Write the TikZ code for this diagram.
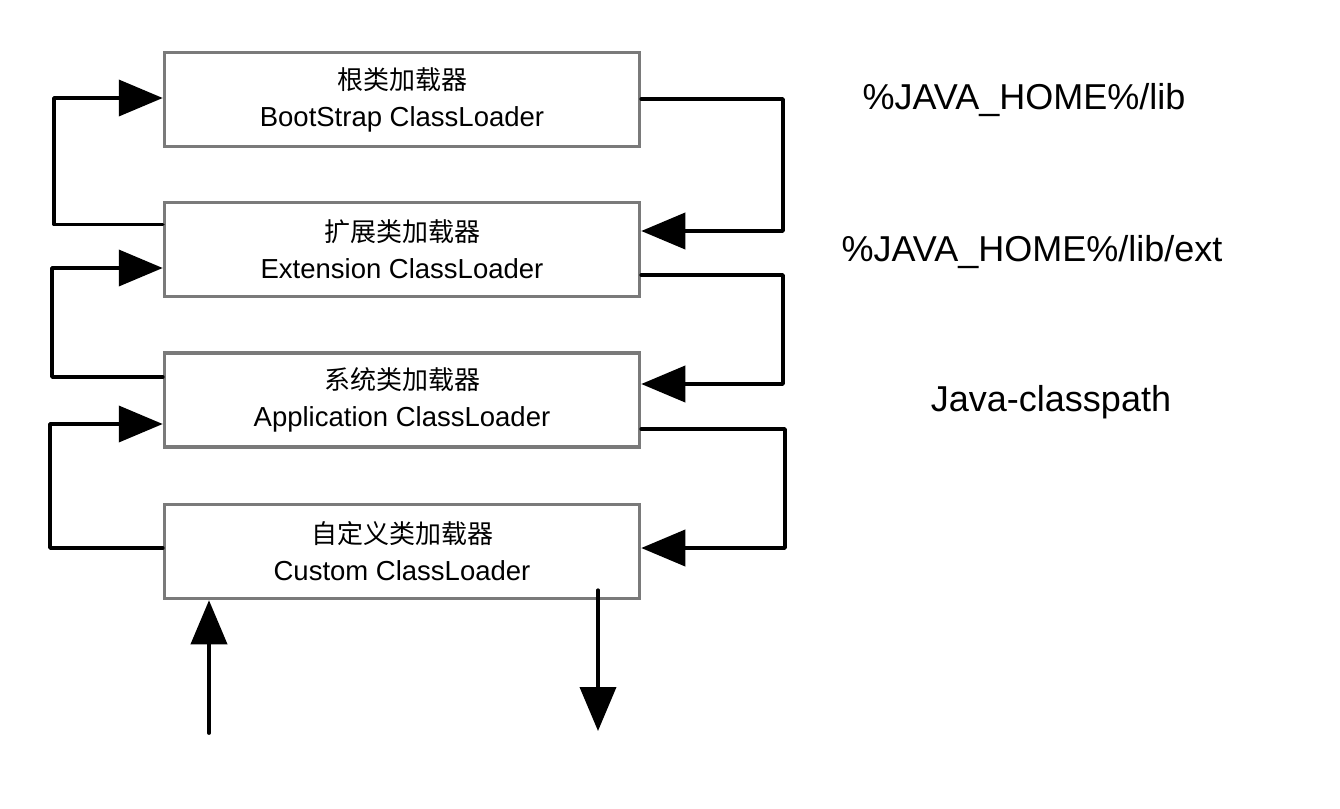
\documentclass[tikz,border=0pt]{standalone}
\usepackage{fontspec}
\setmainfont{Liberation Sans}
\newfontfamily\cjk{Noto Sans CJK SC}
\usetikzlibrary{arrows.meta}
\definecolor{boxgray}{HTML}{7A7A7A}
\newcommand{\zh}[1]{{\cjk\fontsize{26}{37}\selectfont #1}}
\begin{document}
\begin{tikzpicture}[x=1pt,y=-1pt,
  box/.style={draw=boxgray,line width=3.5pt,minimum width=475pt,minimum height=94pt,
    align=center,inner sep=0pt,font=\fontsize{27.5}{37}\selectfont},
  conn/.style={draw=black,line width=3.8pt,line cap=round,line join=round,
    -{Triangle[length=44pt,width=36pt]}},
  lbl/.style={font=\fontsize{36}{42}\selectfont,inner sep=0pt}]
\useasboundingbox[fill=white] (0,0) rectangle (1340,808);
\node[box] (b1) at (402,99.5) {\zh{根类加载器}\\BootStrap ClassLoader};
\node[box] (b2) at (402,249.5) {\zh{扩展类加载器}\\Extension ClassLoader};
\node[box] (b3) at (402,400) {\zh{系统类加载器}\\Application ClassLoader};
\node[box] (b4) at (402,551.5) {\zh{自定义类加载器}\\Custom ClassLoader};
% left side (upward delegation)
\draw[conn] ([yshift=25pt]b2.west) -| (54,98) -- ([yshift=1.5pt]b1.west);
\draw[conn] ([yshift=23pt]b3.west) -| (52,268) -- ([yshift=-18.5pt]b2.west);
\draw[conn] ([yshift=3.5pt]b4.west) -| (50,424) -- ([yshift=-24pt]b3.west);
% right side (downward)
\draw[conn] ([yshift=0.5pt]b1.east) -| (783,231) -- ([yshift=18.5pt]b2.east);
\draw[conn] ([yshift=-25.5pt]b2.east) -| (783,384) -- ([yshift=16pt]b3.east);
\draw[conn] ([yshift=-29pt]b3.east) -| (785,548) -- ([yshift=3.5pt]b4.east);
% bottom arrows
\coordinate (in) at (209,733);
\coordinate (out) at (598,731);
\draw[conn] (in) -- (b4.south -| in);
\draw[conn] ([yshift=10pt]b4.south -| out) -- (out);
% labels
\node[lbl] (l1) at (1024,100) {\%JAVA\_HOME\%/lib};
\node[lbl] (l2) at (1032,252) {\%JAVA\_HOME\%/lib/ext};
\node[lbl] (l3) at (1051,402) {Java-classpath};
\end{tikzpicture}
\end{document}
